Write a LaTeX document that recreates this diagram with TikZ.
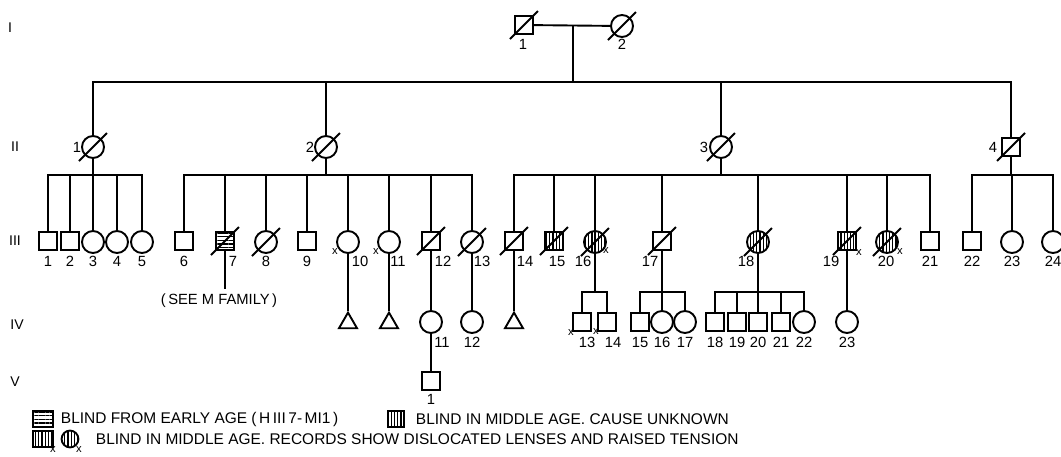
\documentclass[tikz,border=0pt]{standalone}
\usepackage{fontspec}
\setmainfont{Liberation Sans}
\usetikzlibrary{positioning,shapes.geometric,patterns.meta}

\begin{document}
\begin{tikzpicture}[x=0.025cm, y=-0.025cm, line width=1.35pt,
  %% pedigree symbols
  male/.style={draw, rectangle, minimum size=0.45cm, inner sep=0pt},
  female/.style={draw, circle, minimum size=0.55cm, inner sep=0pt},
  unkn/.style={draw, regular polygon, regular polygon sides=3,
    minimum size=0.52cm, inner sep=0pt},
  %% shading for blindness
  early/.style={pattern={Lines[angle=0, distance=2.6pt, line width=0.9pt]}},
  middle/.style={pattern={Lines[angle=90, distance=2.3pt, line width=0.9pt]}},
  %% texts
  num/.style={font=\fontsize{10.5}{11}\selectfont, inner sep=0pt},
  gen/.style={font=\fontsize{10}{10}\selectfont, inner sep=0pt},
  xm/.style={font=\fontsize{8}{8}\selectfont, inner sep=0pt},
  txt/.style={font=\fontsize{11}{12}\selectfont, inner sep=0pt, anchor=west}
]
\useasboundingbox (0,0) rectangle (1061,456);

%% -- Generation labels ---------------------------------------
\node[gen] (gI)   at (10,28)  {I};
\node[gen] (gII)  at (15,147) {II};
\node[gen] (gIII) at (15,241) {III};
\node[gen] (gIV)  at (17,325) {IV};
\node[gen] (gV)   at (15,382) {V};

%% -- Generation I --------------------------------------------
\node[male]   (I1) at (524,25) {};
\node[female] (I2) at (622,26) {};
\draw (I1) -- (I2);
\coordinate (m1) at (573,25);
\coordinate (g1) at (573,82);

%% -- Generation II -------------------------------------------
\node[female] (II1) at (93,147)   {};
\node[female] (II2) at (326,147)  {};
\node[female] (II3) at (721,147)  {};
\node[male]   (II4) at (1011,147) {};

\draw (m1) -- (g1);
\draw (II1) |- (g1) -| (II4);
\draw (II2) -- (II2 |- g1);
\draw (II3) -- (II3 |- g1);

%% -- Generation III ------------------------------------------
\node[male]   (III1)  at (48,241)  {};
\node[male]   (III2)  at (70,241)  {};
\node[female] (III3)  at (93,242)  {};
\node[female] (III4)  at (117,242) {};
\node[female] (III5)  at (142,242) {};

\node[male]          (III6)  at (184,241) {};
\node[male, early]   (III7)  at (225,241) {};
\node[female]        (III8)  at (266,242) {};
\node[male]          (III9)  at (307,241) {};
\node[female]        (III10) at (348,242) {};
\node[female]        (III11) at (389,242) {};
\node[male]          (III12) at (431,241) {};
\node[female]        (III13) at (472,242) {};

\node[male]          (III14) at (514,241) {};
\node[male, middle]  (III15) at (554,241) {};
\node[female,middle] (III16) at (595,242) {};
\node[male]          (III17) at (662,241) {};
\node[female,middle] (III18) at (758,242) {};
\node[male, middle]  (III19) at (847,241) {};
\node[female,middle] (III20) at (887,242) {};
\node[male]          (III21) at (930,241) {};

\node[male]   (III22) at (972,241)  {};
\node[female] (III23) at (1012,242) {};
\node[female] (III24) at (1053,242) {};

\coordinate (f1) at (93,175);
\coordinate (f2) at (326,175);
\coordinate (f3) at (721,175);
\coordinate (f4) at (1011,175);

\draw (II1) -- (f1);
\draw (III1) |- (f1) -| (III5);
\foreach \c in {III2,III3,III4} \draw (\c) -- (\c |- f1);

\draw (II2) -- (f2);
\draw (III6) |- (f2) -| (III13);
\foreach \c in {III7,III8,III9,III10,III11,III12} \draw (\c) -- (\c |- f2);

\draw (II3) -- (f3);
\draw (III14) |- (f3) -| (III21);
\foreach \c in {III15,III16,III17,III18,III19,III20} \draw (\c) -- (\c |- f3);

\draw (II4) -- (f4);
\draw (III22) |- (f4) -| (III24);
\draw (III23) -- (III23 |- f4);

%% -- Generation IV -------------------------------------------
\node[unkn]   (IVt1) at (348,323) {};
\node[unkn]   (IVt2) at (389,323) {};
\node[female] (IV11) at (431,322) {};
\node[female] (IV12) at (472,322) {};
\node[unkn]   (IVt3) at (514,323) {};
\node[male]   (IV13) at (582,322) {};
\node[male]   (IV14) at (607,322) {};
\node[male]   (IV15) at (640,322) {};
\node[female] (IV16) at (662,322) {};
\node[female] (IV17) at (685,322) {};
\node[male]   (IV18) at (715,322) {};
\node[male]   (IV19) at (737,322) {};
\node[male]   (IV20) at (758,322) {};
\node[male]   (IV21) at (781,322) {};
\node[female] (IV22) at (804,322) {};
\node[female] (IV23) at (847,322) {};

\draw (III10) -- (IVt1);
\draw (III11) -- (IVt2);
\draw (III12) -- (IV11);
\draw (III13) -- (IV12);
\draw (III14) -- (IVt3);
\draw (III19) -- (IV23);

\coordinate (h16) at (595,292);
\coordinate (h17) at (662,292);
\coordinate (h18) at (758,292);
\draw (III16) -- (h16);
\draw (IV13) |- (h16) -| (IV14);
\draw (III17) -- (h17);
\draw (IV15) |- (h17) -| (IV17);
\draw (IV16) -- (IV16 |- h17);
\draw (III18) -- (h18);
\draw (IV18) |- (h18) -| (IV22);
\foreach \c in {IV19,IV20,IV21} \draw (\c) -- (\c |- h18);

%% III 7 goes on to the M family
\node[num] (seeM) at (219,301) {(\,SEE M FAMILY\,)};
\coordinate (e7) at (225,289);
\draw (III7) -- (e7);

%% -- Generation V --------------------------------------------
\node[male] (V1) at (431,381) {};
\draw (IV11) -- (V1);

%% -- Deceased strokes ----------------------------------------
\foreach \n in {I1,I2,II1,II2,II3,II4,III7,III8,III12,III13,III14,
                III15,III16,III17,III18,III19,III20}
  \draw ([shift={(-14,14)}]\n.center) -- ([shift={(14,-14)}]\n.center);

%% -- Numbers -------------------------------------------------
\node[num] (nI1) at (523,44) {1};
\node[num] (nI2) at (622,44) {2};
\node[num] (nII1) at (77,147)  {1};
\node[num] (nII2) at (310,147) {2};
\node[num] (nII3) at (704,147) {3};
\node[num] (nII4) at (993,147) {4};

\foreach \t/\x in {1/48,2/70,3/93,4/117,5/142,6/184,7/233,8/266,9/307,
                   10/360,11/398,12/443,13/482,14/525,15/557,16/583,17/650,
                   18/746,19/831,20/886,21/930,22/972,23/1012,24/1053}
  \node[num] (nIII\t) at (\x,261) {\t};

\foreach \t/\x in {11/442,12/472,13/587,14/613,15/640,16/662,17/685,
                   18/715,19/737,20/758,21/781,22/804,23/847}
  \node[num] (nIV\t) at (\x,342) {\t};

\node[num] (nV1) at (431,399) {1};

%% -- Cross marks ---------------------------------------------
\foreach \k/\x/\y in {a/335/252,b/376/252,c/606/251,d/859/253,e/900/252,
                      f/571/333,g/596/332}
  \node[xm] (x\k) at (\x,\y) {x};

%% -- Key -----------------------------------------------------
\node[male, early, minimum width=0.48cm, minimum height=0.4cm] (k1) at (43,419) {};
\node[txt] (k1t) at (60,419) {BLIND FROM EARLY AGE (\,H\,III\,7-\,MI1\,)};
\node[male, middle, minimum width=0.42cm, minimum height=0.4cm] (k2) at (396,419) {};
\node[txt] (k2t) at (415,419) {BLIND IN MIDDLE AGE.\ CAUSE UNKNOWN};
\node[male, middle, minimum width=0.48cm, minimum height=0.38cm] (k3) at (43,439) {};
\node[female, middle, minimum size=0.42cm] (k4) at (70,439) {};
\node[xm] (xk3) at (53,450) {x};
\node[xm] (xk4) at (79,450) {x};
\node[txt] (k3t) at (95,439)
  {BLIND IN MIDDLE AGE.\ RECORDS SHOW DISLOCATED LENSES AND RAISED TENSION};

\end{tikzpicture}
\end{document}
